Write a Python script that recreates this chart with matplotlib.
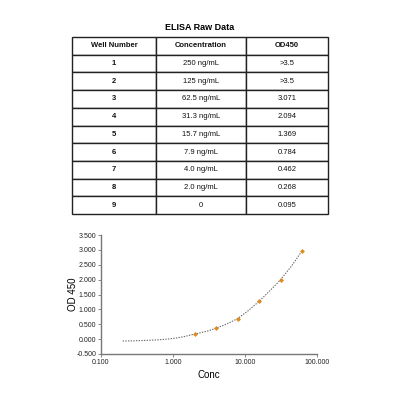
import matplotlib
matplotlib.use("Agg")
import matplotlib.pyplot as plt
from matplotlib.ticker import FixedLocator, FuncFormatter, NullLocator

plt.rcParams['font.family'] = ['Liberation Sans', 'DejaVu Sans']

# Table data
headers = ["Well Number", "Concentration", "OD450"]
wells = ["1", "2", "3", "4", "5", "6", "7", "8", "9"]
concs = ["250 ng/mL", "125 ng/mL", "62.5 ng/mL", "31.3 ng/mL", "15.7 ng/mL",
         "7.9 ng/mL", "4.0 ng/mL", "2.0 ng/mL", "0"]
ods = [">3.5", ">3.5", "3.071", "2.094", "1.369", "0.784", "0.462", "0.268", "0.095"]

# Standard curve points (blank-subtracted OD)
pt_conc = [2.0, 4.0, 7.9, 15.7, 31.3, 62.5]
pt_od = [0.173, 0.367, 0.689, 1.274, 1.999, 2.976]

# Fitted curve
fit_conc = [0.2, 0.3, 0.5, 0.7, 1.0, 1.4, 2.0, 3.0, 4.0, 5.6, 7.9, 11.0, 15.7, 22.0, 31.3, 45.0, 62.5]
fit_od = [-0.065, -0.055, -0.035, -0.015, 0.02, 0.08, 0.17, 0.27, 0.37, 0.51, 0.69, 0.95, 1.27, 1.62, 2.0, 2.48, 2.98]

yticks = [-0.5, 0.0, 0.5, 1.0, 1.5, 2.0, 2.5, 3.0, 3.5]
xticks = [0.1, 1, 10, 100]

fig = plt.figure(figsize=(4, 4), dpi=100)

# Title
fig.text(0.5, 1 - 27 / 400, "ELISA Raw Data", ha="center", va="center",
         fontsize=6.5, fontweight="bold")

# Table
tax = fig.add_axes([0, 0, 1, 1])
tax.set_axis_off()
rows = [[w, c, o] for w, c, o in zip(wells, concs, ods)]
left, right, top, bot = 72 / 400, 328 / 400, 1 - 37 / 400, 1 - 214 / 400
tbl = tax.table(cellText=rows, colLabels=headers, cellLoc="center",
                colWidths=[84, 90, 82],
                bbox=[left, bot, right - left, top - bot])
tbl.auto_set_font_size(False)
for (r, c), cell in tbl.get_celld().items():
    cell.set_edgecolor("#222222")
    cell.set_linewidth(1.0)
    cell.get_text().set_fontsize(5.5)
    cell.get_text().set_color("#111111")
    if r == 0:
        cell.get_text().set_fontweight("bold")
    if c == 0 and r > 0:
        cell.get_text().set_fontweight("bold")

# Plot
ax = fig.add_axes([101 / 400, 1 - 354 / 400, 216 / 400, 119 / 400])
ax.plot(fit_conc, fit_od, linestyle=(0, (1.2, 1.2)), color="#666666", linewidth=0.8)
ax.plot(pt_conc, pt_od, linestyle="none", marker="D", markersize=2.5,
        color="#e08a1e", markeredgewidth=0)
ax.set_xscale("log")
ax.set_xlim(0.1, 100)
ax.set_ylim(-0.5, 3.5)
ax.xaxis.set_major_locator(FixedLocator(xticks))
ax.xaxis.set_minor_locator(NullLocator())
ax.xaxis.set_major_formatter(FuncFormatter(lambda v, p: f"{v:.3f}"))
ax.yaxis.set_major_locator(FixedLocator(yticks))
ax.yaxis.set_major_formatter(FuncFormatter(lambda v, p: f"{v:.3f}"))
for s in ["top", "right"]:
    ax.spines[s].set_visible(False)
for s in ["left", "bottom"]:
    ax.spines[s].set_color("#777777")
    ax.spines[s].set_linewidth(1.0)
ax.tick_params(axis="both", labelsize=5, colors="#777777", length=2, width=0.6,
               labelcolor="#222222", pad=1.5)
ax.set_xlabel("Conc", fontsize=7, labelpad=3)
ax.set_ylabel("OD 450", fontsize=7, labelpad=-1)

fig.savefig("out.png", dpi=100)
